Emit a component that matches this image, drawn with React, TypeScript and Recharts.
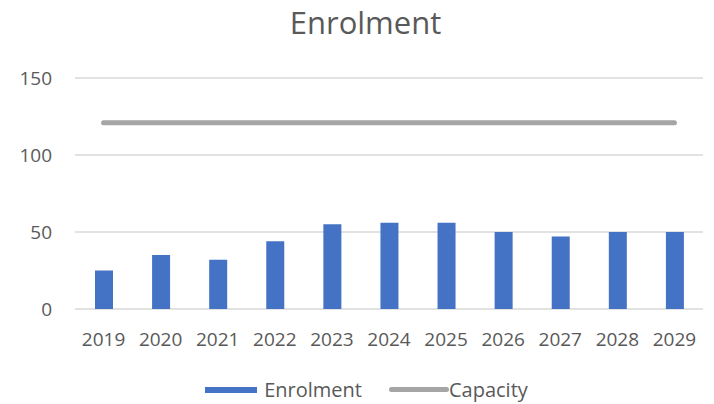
import React from 'react';
import { ComposedChart, Bar, Line, XAxis, YAxis, CartesianGrid, Legend } from 'recharts';

const years = ['2019', '2020', '2021', '2022', '2023', '2024', '2025', '2026', '2027', '2028', '2029'];
const enrolment = [25, 35, 32, 44, 55, 56, 56, 50, 47, 50, 50];
const capacity = [121, 121, 121, 121, 121, 121, 121, 121, 121, 121, 121];
const yTicks = [0, 50, 100, 150];

const BLUE = '#4472C4';
const GREY = '#A5A5A5';
const TEXT = '#595959';
const FONT = '"Open Sans", sans-serif';

const data = years.map((y, i) => ({ year: y, enrolment: enrolment[i], capacity: capacity[i] }));

// legend drawn like the Excel one: long flat swatch for the bar, rounded stroke for the line
function ExcelLegend() {
  return (
    <div style={{ display: 'flex', justifyContent: 'center', alignItems: 'center', fontFamily: FONT, fontSize: 20, color: TEXT, paddingLeft: 30, marginTop: 17 }}>
      <span style={{ display: 'inline-block', width: 52, height: 6, background: BLUE, marginRight: 7 }} />
      <span style={{ marginRight: 27 }}>Enrolment</span>
      <span style={{ display: 'inline-block', width: 60, height: 5, background: GREY, borderRadius: 3, marginRight: 0 }} />
      <span>Capacity</span>
    </div>
  );
}

export default function App() {
  return (
    <div style={{ position: 'fixed', left: 0, top: 0, width: 714, height: 404, background: '#fff' }}>
      <div style={{ position: 'absolute', top: 1, left: 0, width: 731, textAlign: 'center', fontFamily: FONT, fontSize: 31, color: TEXT }}>
        Enrolment
      </div>
      <ComposedChart width={714} height={404} data={data} margin={{ top: 78, right: 11, left: 0, bottom: 5 }} barCategoryGap="34%">
        <CartesianGrid vertical={false} stroke="#D9D9D9" strokeWidth={1.5} />
        <XAxis
          dataKey="year"
          axisLine={false}
          tickLine={false}
          tickMargin={18}
          height={50}
          tick={{ fill: TEXT, fontSize: 19, fontFamily: FONT }}
        />
        <YAxis
          domain={[0, 150]}
          ticks={yTicks}
          axisLine={false}
          tickLine={false}
          width={75}
          tickMargin={17}
          tick={{ fill: TEXT, fontSize: 19, fontFamily: FONT }}
        />
        <Legend verticalAlign="bottom" height={40} content={() => <ExcelLegend />} />
        <Bar dataKey="enrolment" name="Enrolment" fill={BLUE} barSize={18} isAnimationActive={false} />
        <Line dataKey="capacity" name="Capacity" stroke={GREY} strokeWidth={5} strokeLinecap="round" dot={false} activeDot={false} isAnimationActive={false} />
      </ComposedChart>
    </div>
  );
}
